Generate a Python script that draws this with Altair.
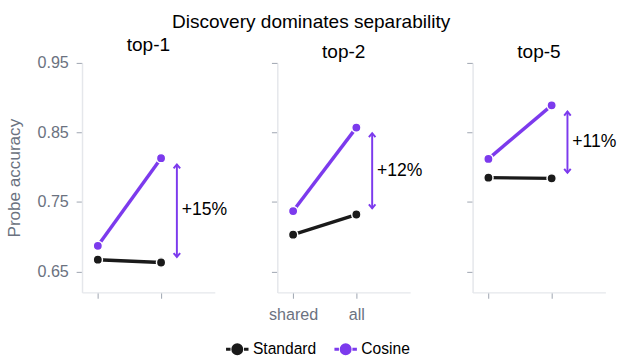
import altair as alt
import pandas as pd

panels = ["top-1", "top-2", "top-5"]
series = ["Standard", "Cosine"]
x_labels = ["shared", "all"]

standard_vals = {"top-1": [0.667, 0.663], "top-2": [0.703, 0.732], "top-5": [0.785, 0.784]}
cosine_vals = {"top-1": [0.687, 0.813], "top-2": [0.737, 0.857], "top-5": [0.812, 0.889]}

arrow_top = {"top-1": 0.804, "top-2": 0.849, "top-5": 0.880}
arrow_bottom = {"top-1": 0.671, "top-2": 0.741, "top-5": 0.792}
arrow_label = {"top-1": "+15%", "top-2": "+12%", "top-5": "+11%"}

FONT = "Liberation Sans"
PURPLE = "#7c3aed"
BLACK = "#1a1a1a"
GRAY = "#6b7280"

color_scale = alt.Scale(domain=series, range=[BLACK, PURPLE])
yscale = alt.Scale(domain=[0.62, 0.95], nice=False, zero=False)
xscale = alt.Scale(domain=[-0.25, 1.85], nice=False, zero=False)


def panel_chart(p, idx):
    rows = []
    for s, vals in (("Standard", standard_vals[p]), ("Cosine", cosine_vals[p])):
        for i, v in enumerate(vals):
            rows.append({"series": s, "x": i, "value": v})
    df = pd.DataFrame(rows)
    arr = pd.DataFrame([{
        "x": 1.25,
        "top": arrow_top[p],
        "bottom": arrow_bottom[p],
        "mid": (cosine_vals[p][1] + standard_vals[p][1]) / 2,
        "label": arrow_label[p],
    }])

    if idx == 0:
        yaxis = alt.Axis(values=[0.65, 0.75, 0.85, 0.95], format=".2f", title="Probe accuracy",
                         grid=False, labelPadding=8, titlePadding=14)
    else:
        yaxis = alt.Axis(values=[0.65, 0.75, 0.85, 0.95], labels=False, title=None, grid=False)
    if idx == 1:
        xaxis = alt.Axis(values=[0, 1], labelExpr="datum.value == 0 ? 'shared' : 'all'",
                         title=None, grid=False, labelPadding=9)
    else:
        xaxis = alt.Axis(values=[0, 1], labels=False, title=None, grid=False)

    base = alt.Chart(df)
    line = base.mark_line(strokeWidth=3.5).encode(
        x=alt.X("x:Q", scale=xscale, axis=xaxis),
        y=alt.Y("value:Q", scale=yscale, axis=yaxis),
        color=alt.Color("series:N", scale=color_scale, sort=series,
                        legend=alt.Legend(title=None, orient="none", legendX=146, legendY=280,
                                          direction="horizontal")),
        detail="series:N",
    )
    pts = base.mark_point(filled=True, size=90, opacity=1, stroke="white", strokeWidth=1.5).encode(
        x="x:Q", y="value:Q",
        fill=alt.Fill("series:N", scale=color_scale, legend=None),
    )
    abase = alt.Chart(arr)
    shaft = abase.mark_rule(color=PURPLE, strokeWidth=2).encode(
        x="x:Q", y="top:Q", y2="bottom:Q")
    head_up = abase.mark_point(shape="M-1,1.2L0,0L1,1.2", size=45, filled=False,
                               color=PURPLE, strokeWidth=2, opacity=1).encode(x="x:Q", y="top:Q")
    head_dn = abase.mark_point(shape="M-1,-1.2L0,0L1,-1.2", size=45, filled=False,
                               color=PURPLE, strokeWidth=2, opacity=1).encode(x="x:Q", y="bottom:Q")
    txt = abase.mark_text(align="left", baseline="middle", dx=5, fontSize=18, font=FONT,
                          color="black").encode(x="x:Q", y="mid:Q", text="label:N")

    return alt.layer(line, pts, shaft, head_up, head_dn, txt).properties(
        width=136, height=235,
        title=alt.TitleParams(p, fontSize=19.5, fontWeight="normal", font=FONT, color="black", offset=0),
    )


chart = alt.hconcat(*[panel_chart(p, i) for i, p in enumerate(panels)], spacing=64,
                    bounds="flush").properties(
    title=alt.TitleParams("Discovery dominates separability", fontSize=19.5, fontWeight="normal",
                          font=FONT, color="black", anchor="middle", offset=3),
    padding={"left": 5, "top": 8, "right": 5, "bottom": 5},
).configure_view(stroke=None).configure_axis(
    domainColor="#e5e7eb", domainWidth=1.5, tickColor="#9ca3af", tickSize=6,
    labelColor=GRAY, labelFont=FONT, labelFontSize=16.5, titleColor=GRAY, titleFont=FONT,
    titleFontSize=17.5, titleFontWeight="normal",
).configure_legend(
    labelFont=FONT, labelFontSize=16, labelColor="black", labelOffset=3,
    symbolType="M-1,0H-0.6M0.6,0H1M0.4,0A0.4,0.4,0,1,1,-0.4,0A0.4,0.4,0,1,1,0.4,0Z",
    symbolSize=529, symbolStrokeWidth=3, columnPadding=12,
)

chart.save("out.html", embed_options={"renderer": "svg", "actions": False})
